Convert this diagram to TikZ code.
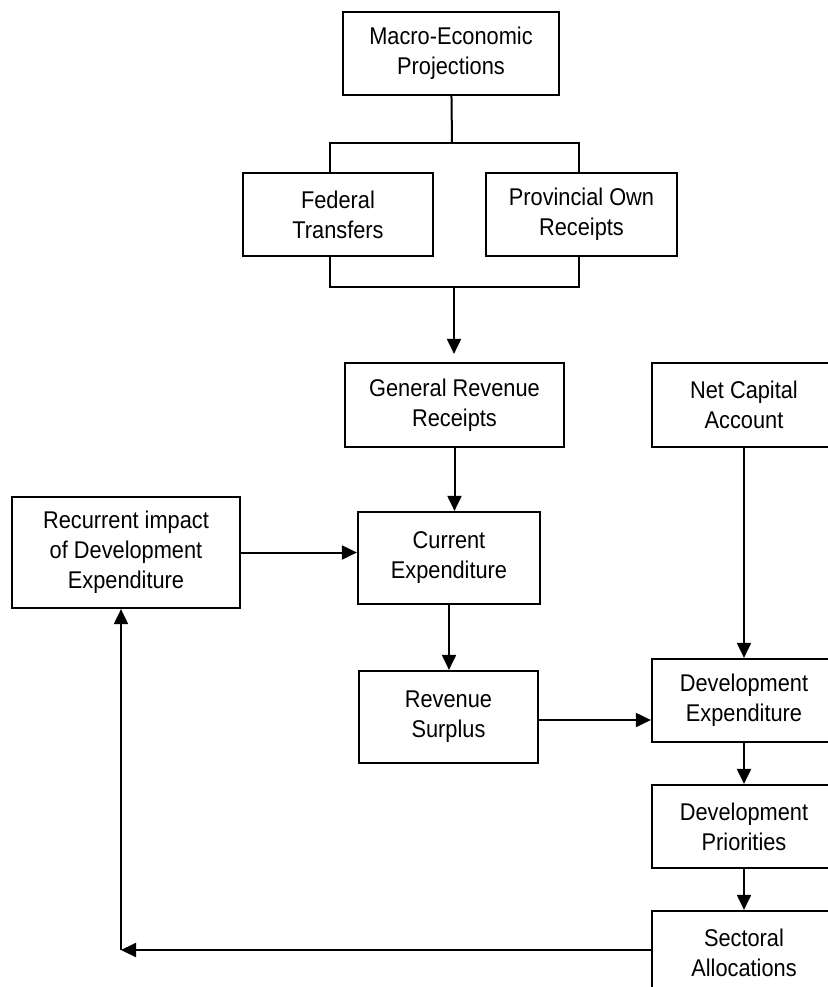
\documentclass[tikz,border=0pt]{standalone}
\usepackage{fontspec}
\setmainfont{Liberation Sans}[FakeStretch=0.9]
\usetikzlibrary{positioning}
\usetikzlibrary{arrows.meta}

\begin{document}
\begin{tikzpicture}[x=0.5pt, y=-0.5pt,
        box/.style={draw, line width=1.1pt, align=center, inner sep=0pt,
            minimum height=41.5pt, font=\fontsize{12.1}{15}\selectfont},
        link/.style={line width=1pt},
        arr/.style={line width=1pt, -{Triangle[length=7.5pt, width=7pt]}}]
        % Frame of the page
        \useasboundingbox (0, 0) rectangle (827, 987);

        % Revenue side
        \node[box, minimum width=108pt] (macro) at (451, 53.5) {Macro-Economic\\Projections};
        \node[box, minimum width=95pt] (federal) at (338, 214.5) {Federal\\Transfers};
        \node[box, minimum width=95.5pt] (provincial) at (581.5, 214.5) {Provincial Own\\Receipts};
        \node[box, minimum width=109.5pt, minimum height=42pt] (grr) at (454.5, 405) {General Revenue\\Receipts};
        \node[box, minimum width=91pt, minimum height=46pt] (curexp) at (449, 558) {Current\\Expenditure};
        \node[box, minimum width=89.5pt, minimum height=46pt] (revsur) at (448.5, 717) {Revenue\\Surplus};
        \node[box, minimum width=114pt, minimum height=55.5pt] (recur) at (126, 552.5) {Recurrent impact\\of Development\\Expenditure};

        % Development side (cut by the right edge)
        \node[box, minimum width=92pt, minimum height=42pt] (nca) at (744, 405) {Net Capital\\Account};
        \node[box, minimum width=92pt] (devexp) at (744, 700.5) {Development\\Expenditure};
        \node[box, minimum width=92pt] (devpri) at (744, 826.5) {Development\\Priorities};
        \node[box, minimum width=92pt] (sect) at (744, 952.5) {Sectoral\\Allocations};

        % Brackets
        \coordinate (split) at (452, 143);
        \coordinate (merge) at (454, 287);
        \draw[link] (macro) -- (split);
        \draw[link] ([xshift=-4pt]federal.north) |- (split) -| ([xshift=-1.5pt]provincial.north);
        \draw[link] ([xshift=-4pt]federal.south) |- (merge) -| ([xshift=-1.5pt]provincial.south);

        % Arrows
        \draw[arr, shorten >=4pt] (merge) -- (merge |- grr.north);
        \draw[arr] (grr.south) -- (grr.south |- curexp.north);
        \draw[arr] (recur) -- (recur -| curexp.west);
        \draw[arr] (curexp) -- (curexp |- revsur.north);
        \draw[arr] ([yshift=-1.5pt]revsur.east) -- ([yshift=-1.5pt]revsur.east -| devexp.west);
        \draw[arr] (nca) -- (devexp);
        \draw[arr] (devexp) -- (devpri);
        \draw[arr] (devpri) -- (sect);

        % Feedback loop
        \coordinate (corner) at (121, 950);
        \draw[arr] (sect.west |- corner) -- (corner);
        \draw[arr] (corner) -- (corner |- recur.south);
    \end{tikzpicture}
\end{document}
